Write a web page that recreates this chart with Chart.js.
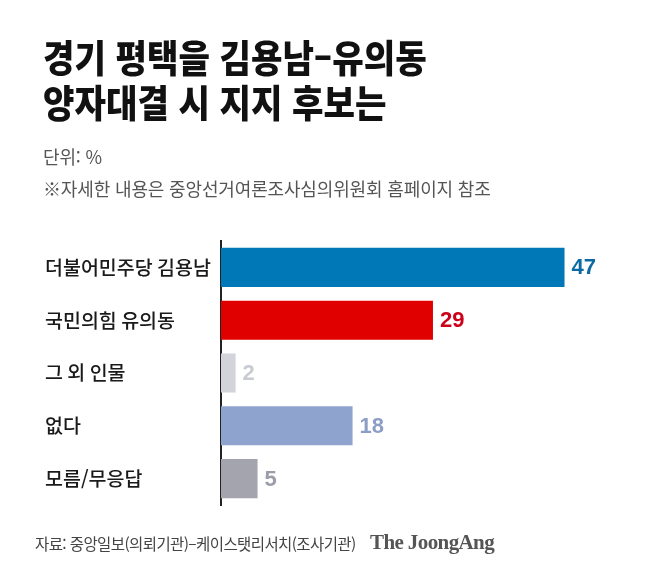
<!DOCTYPE html>
<html lang="ko">
<head>
<meta charset="utf-8">
<title>경기 평택을 김용남–유의동 양자대결 시 지지 후보는</title>
<script src="https://cdn.jsdelivr.net/npm/chart.js@4"></script>
<style>
  html, body { margin: 0; padding: 0; background: #fff; }
  body { width: 658px; height: 585px; position: relative; overflow: hidden;
         font-family: "Noto Sans CJK KR", "Noto Sans", sans-serif; }
  .title { position: absolute; left: 43px; top: 33px; margin: 0;
           font-size: 38px; font-weight: 900; line-height: 45px; color: #111;
           white-space: nowrap; transform: scaleX(0.9); transform-origin: left top; }
  .sub { position: absolute; left: 43px; margin: 0; font-size: 18px; color: #555;
         letter-spacing: -0.15px; white-space: nowrap; line-height: 22px; }
  .source { position: absolute; left: 35px; top: 533px; font-size: 15.5px; color: #444;
            letter-spacing: -0.6px; white-space: nowrap; line-height: 20px; }
  .brand { position: absolute; left: 370px; top: 530px; font-family: "Liberation Serif", serif;
           font-weight: bold; font-size: 21px; color: #555; letter-spacing: -0.6px;
           white-space: nowrap; line-height: 24px; }
  .wrap { position: absolute; left: 0; top: 0; width: 658px; height: 585px; }
</style>
</head>
<body>
<div class="wrap"><canvas id="pollChart"></canvas></div>
<h1 class="title">경기 평택을 김용남–유의동<br>양자대결 시 지지 후보는</h1>
<p class="sub" style="top:145px">단위: %</p>
<p class="sub" style="top:177px">※자세한 내용은 중앙선거여론조사심의위원회 홈페이지 참조</p>
<div class="source">자료: 중앙일보(의뢰기관)–케이스탯리서치(조사기관)</div>
<div class="brand">The JoongAng</div>

<script>
/* ── DATA ─────────────────────────────────────────────── */
const categories  = ['더불어민주당 김용남', '국민의힘 유의동', '그 외 인물', '없다', '모름/무응답'];
const values      = [47, 29, 2, 18, 5];
const barColors   = ['#0077b6', '#e00000', '#d3d4da', '#8ea4cf', '#a3a4ae'];
const labelColors = ['#0b6aa3', '#cc0018', '#c9cbd2', '#8c9ec5', '#9b9da8'];

/* ── VALUE LABELS at the end of each bar ─────────────── */
const valueLabels = {
  id: 'valueLabels',
  afterDatasetsDraw(chart) {
    const ctx  = chart.ctx;
    const meta = chart.getDatasetMeta(0);
    ctx.save();
    ctx.font = 'bold 22px "Liberation Sans", Arial, sans-serif';
    ctx.textAlign = 'left';
    ctx.textBaseline = 'middle';
    meta.data.forEach((bar, i) => {
      ctx.fillStyle = labelColors[i];
      ctx.fillText(String(values[i]), bar.x + 7, bar.y + 1);
    });
    ctx.restore();
  }
};

new Chart(document.getElementById('pollChart'), {
  type: 'bar',
  data: {
    labels: categories,
    datasets: [{
      data: values,
      backgroundColor: barColors,
      borderWidth: 0,
      categoryPercentage: 1,
      barPercentage: 0.74,
    }],
  },
  options: {
    indexAxis: 'y',
    responsive: true,
    maintainAspectRatio: false,
    animation: false,
    layout: { padding: { left: 45, top: 241, right: 35, bottom: 80 } },
    plugins: { legend: { display: false }, tooltip: { enabled: false } },
    scales: {
      x: { display: false, min: 0, max: 55 },
      y: {
        grid: { display: false },
        border: { display: true, color: '#222', width: 2 },
        ticks: {
          crossAlign: 'far',
          color: '#1a1a1a',
          font: { family: '"Noto Sans CJK KR", sans-serif', size: 19.5, weight: '500' },
        },
        afterFit(scale) { scale.width = 176; },
      },
    },
  },
  plugins: [valueLabels],
});
</script>
</body>
</html>
